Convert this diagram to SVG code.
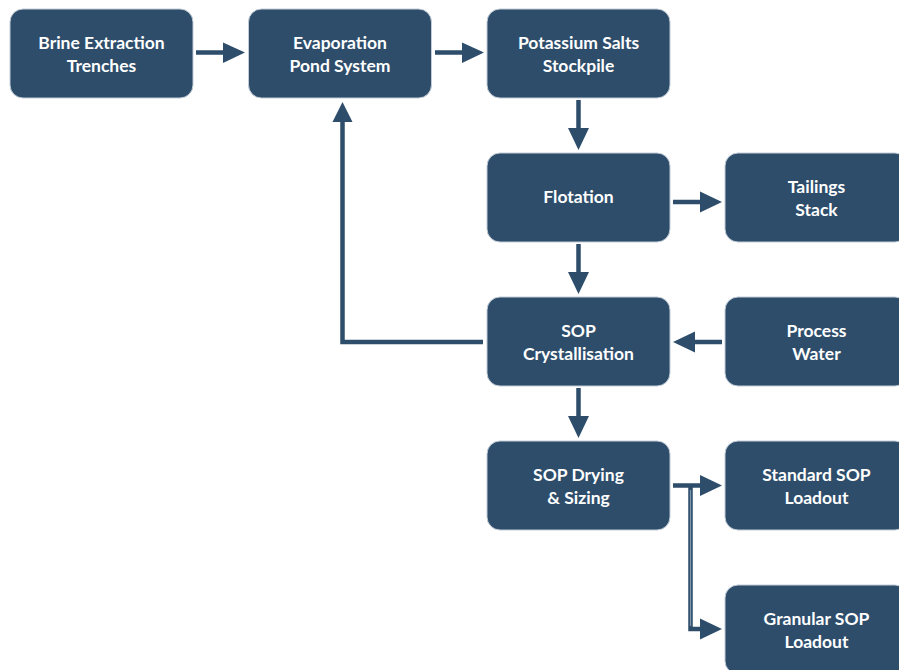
<svg xmlns="http://www.w3.org/2000/svg" width="899" height="670" viewBox="0 0 899 670">
<defs>
<style>
.box{fill:#2d4d6b;stroke:#c3cdd7;stroke-width:1}
.t{fill:#ffffff;font-family:Lato,"Open Sans",sans-serif;font-weight:700;font-size:17.5px;text-anchor:middle}
.ln{fill:none;stroke:#2d4d6b;stroke-width:4.5}
.hd{fill:#2d4d6b}
</style>
</defs>
<rect width="899" height="670" fill="#ffffff"/>
<g id="connectors">
<path class="ln" d="M196 52.5H224"/><polygon class="hd" points="223,42.5 245,52.5 223,63"/>
<path class="ln" d="M435 52.5H463"/><polygon class="hd" points="462,42.5 484,52.5 462,63"/>
<path class="ln" d="M578.5 100V129"/><polygon class="hd" points="568,128 589,128 578.5,150"/>
<path class="ln" d="M673 202H701"/><polygon class="hd" points="700,191.5 722,202 700,212.5"/>
<path class="ln" d="M578.5 244V273"/><polygon class="hd" points="568,272 589,272 578.5,294"/>
<path class="ln" d="M483 342H342.5V121"/><polygon class="hd" points="332.5,122 352.5,122 342.5,102"/>
<path class="ln" d="M722 342H694"/><polygon class="hd" points="695,331.5 673,342 695,352.5"/>
<path class="ln" d="M578.5 388V417"/><polygon class="hd" points="568,416 589,416 578.5,438"/>
<path class="ln" d="M673 485.5H701"/><polygon class="hd" points="700,475 722,485.5 700,496"/>
<path class="ln" d="M690.5 485.5V629H701"/><polygon class="hd" points="700,618.5 722,629 700,639.5"/>
<path d="M690.5 490V626" stroke="#8196ab" stroke-width="1.2" fill="none"/>
</g>
<g id="brine"><rect class="box" x="10" y="9" width="183" height="89" rx="13"/><text class="t" x="101.5" y="49">Brine Extraction</text><text class="t" x="101.5" y="72">Trenches</text></g>
<g id="evaporation"><rect class="box" x="248.5" y="9" width="183" height="89" rx="13"/><text class="t" x="340" y="49">Evaporation</text><text class="t" x="340" y="72">Pond System</text></g>
<g id="potassium"><rect class="box" x="487" y="9" width="183" height="89" rx="13"/><text class="t" x="578.5" y="49">Potassium Salts</text><text class="t" x="578.5" y="72">Stockpile</text></g>
<g id="flotation"><rect class="box" x="487" y="153" width="183" height="89" rx="13"/><text class="t" x="578.5" y="203">Flotation</text></g>
<g id="tailings"><rect class="box" x="725" y="153" width="183" height="89" rx="13"/><text class="t" x="816.5" y="193">Tailings</text><text class="t" x="816.5" y="216">Stack</text></g>
<g id="crystallisation"><rect class="box" x="487" y="297" width="183" height="89" rx="13"/><text class="t" x="578.5" y="337">SOP</text><text class="t" x="578.5" y="360">Crystallisation</text></g>
<g id="process-water"><rect class="box" x="725" y="297" width="183" height="89" rx="13"/><text class="t" x="816.5" y="337">Process</text><text class="t" x="816.5" y="360">Water</text></g>
<g id="drying"><rect class="box" x="487" y="441" width="183" height="89" rx="13"/><text class="t" x="578.5" y="481">SOP Drying</text><text class="t" x="578.5" y="504">&amp; Sizing</text></g>
<g id="standard"><rect class="box" x="725" y="441" width="183" height="89" rx="13"/><text class="t" x="816.5" y="481">Standard SOP</text><text class="t" x="816.5" y="504">Loadout</text></g>
<g id="granular"><rect class="box" x="725" y="585" width="183" height="89" rx="13"/><text class="t" x="816.5" y="625">Granular SOP</text><text class="t" x="816.5" y="648">Loadout</text></g>
</svg>
